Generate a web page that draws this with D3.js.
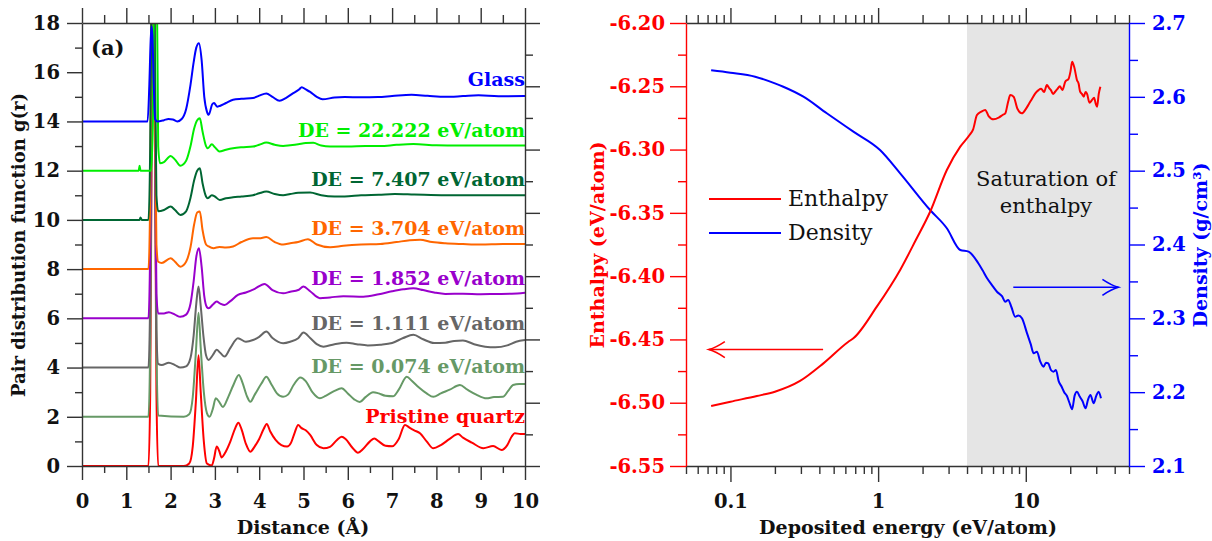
<!DOCTYPE html>
<html><head><meta charset="utf-8">
<script src="https://cdn.jsdelivr.net/npm/d3@7"></script>
<style>
body{margin:0;background:#fff}
svg{display:block}
text{font-family:"DejaVu Serif",serif}
</style>
</head><body>
<svg id="c" width="1212" height="541"></svg>
<script>
// ---------------- DATA (panel a: pair distribution functions, offset as plotted) ----------------
const pdfLabels = ["Pristine quartz","DE = 0.074 eV/atom","DE = 1.111 eV/atom","DE = 1.852 eV/atom",
                   "DE = 3.704 eV/atom","DE = 7.407 eV/atom","DE = 22.222 eV/atom","Glass"];
const pdfColors = ["#ff0000","#669966","#666666","#9900cc","#ff6600","#006633","#00ee00","#0000ff"];
const pdfLabelY = [1.75, 3.78, 5.53, 7.36, 9.39, 11.38, 13.37, 15.45]; // label baseline (g units)

const quartzPDF = [[0,0],[1.5,0],[1.54,3],[1.58,16],[1.61,25],[1.64,16],[1.68,3],[1.72,0],[2.3,0],[2.42,0.1],[2.5,0.8],[2.57,2.6],[2.63,4.5],[2.68,3.0],[2.75,1.0],[2.82,0.1],[2.93,0.02],[2.98,0.3],[3.04,0.79],[3.1,0.6],[3.15,0.35],[3.25,0.6],[3.35,1.0],[3.45,1.5],[3.53,1.76],[3.6,1.5],[3.7,0.9],[3.8,0.58],[3.9,0.8],[4.0,1.1],[4.1,1.5],[4.17,1.71],[4.25,1.4],[4.37,1.06],[4.5,0.85],[4.63,0.79],[4.72,0.95],[4.8,1.35],[4.88,1.67],[4.95,1.55],[5.05,1.45],[5.15,1.26],[5.3,0.85],[5.45,0.72],[5.6,0.78],[5.75,1.05],[5.86,1.19],[5.95,1.1],[6.1,0.75],[6.23,0.54],[6.35,0.7],[6.5,1.0],[6.6,1.12],[6.7,1.0],[6.85,0.82],[7.0,0.8],[7.15,1.1],[7.29,1.67],[7.4,1.55],[7.5,1.45],[7.63,1.33],[7.78,1.0],[7.93,0.72],[8.1,0.85],[8.3,1.1],[8.49,1.3],[8.6,1.15],[8.8,0.95],[9.06,0.72],[9.28,0.81],[9.47,0.65],[9.6,0.85],[9.7,1.2],[9.77,1.33],[9.9,1.3],[10,1.3]];
const de0074PDF = [[0,2],[1.5,2],[1.54,5],[1.58,16],[1.61,24],[1.64,16],[1.68,5],[1.72,2.05],[2.3,2.0],[2.42,2.1],[2.5,2.8],[2.57,4.6],[2.63,6.23],[2.68,4.8],[2.75,3.0],[2.82,2.15],[2.88,2.0],[2.95,2.3],[3.02,2.75],[3.1,2.6],[3.18,2.4],[3.3,2.8],[3.42,3.3],[3.54,3.7],[3.62,3.4],[3.72,2.85],[3.8,2.61],[3.9,2.9],[4.05,3.35],[4.16,3.63],[4.28,3.3],[4.4,2.95],[4.54,2.81],[4.65,2.9],[4.78,3.3],[4.93,3.6],[5.05,3.45],[5.2,3.0],[5.37,2.75],[5.5,2.85],[5.7,3.05],[5.86,3.16],[6.0,2.95],[6.15,2.7],[6.27,2.6],[6.4,2.8],[6.57,3.0],[6.7,2.95],[6.85,2.85],[7.02,2.83],[7.15,3.1],[7.33,3.63],[7.45,3.45],[7.6,3.2],[7.78,2.95],[7.93,2.81],[8.1,2.95],[8.3,3.1],[8.53,3.29],[8.7,3.1],[8.9,2.9],[9.13,2.75],[9.3,2.8],[9.5,2.81],[9.62,3.05],[9.73,3.29],[9.87,3.33],[10,3.33]];
const de1111PDF = [[0,4],[1.5,4],[1.54,7],[1.58,18],[1.61,24],[1.64,16],[1.68,5.5],[1.72,4.15],[1.8,4.1],[1.96,4.2],[2.1,4.1],[2.22,4.0],[2.35,4.05],[2.45,4.4],[2.52,5.3],[2.58,6.6],[2.63,7.29],[2.68,6.5],[2.74,5.3],[2.8,4.5],[2.86,4.31],[2.95,4.5],[3.04,4.72],[3.12,4.6],[3.22,4.45],[3.35,4.8],[3.52,5.19],[3.7,5.05],[3.86,5.12],[4.0,5.25],[4.16,5.46],[4.3,5.2],[4.54,4.99],[4.7,5.05],[4.88,5.19],[5.0,5.42],[5.15,5.2],[5.3,4.95],[5.45,4.85],[5.7,4.95],[5.97,5.01],[6.2,4.95],[6.45,4.9],[6.73,4.93],[7.0,5.0],[7.25,5.2],[7.48,5.33],[7.7,5.15],[7.95,5.0],[8.2,5.01],[8.4,5.08],[8.6,5.1],[8.85,4.95],[9.1,4.85],[9.33,4.82],[9.6,4.9],[9.8,5.05],[10,5.12]];
const de1852PDF = [[0,6],[1.5,6],[1.54,9],[1.58,20],[1.61,24],[1.64,16],[1.68,7],[1.72,6.2],[1.85,6.2],[1.96,6.25],[2.1,6.15],[2.22,6.06],[2.35,6.15],[2.45,6.6],[2.52,7.5],[2.58,8.5],[2.64,8.85],[2.7,8.1],[2.76,6.9],[2.82,6.45],[2.86,6.41],[2.95,6.55],[3.04,6.68],[3.12,6.6],[3.22,6.54],[3.35,6.7],[3.52,6.95],[3.7,7.05],[3.9,7.2],[4.12,7.4],[4.3,7.15],[4.54,7.02],[4.7,7.08],[4.88,7.15],[5.0,7.29],[5.15,7.1],[5.37,6.82],[5.6,6.85],[5.9,6.9],[6.35,6.88],[6.7,6.98],[7.0,7.1],[7.25,7.18],[7.48,7.22],[7.7,7.15],[7.95,7.05],[8.2,6.99],[8.6,7.0],[9.0,6.98],[9.33,6.99],[9.7,7.0],[10,7.04]];
const de3704PDF = [[0,8],[1.5,8],[1.54,11],[1.58,21],[1.61,24],[1.64,16],[1.68,9],[1.72,8.3],[1.8,8.25],[2.0,8.44],[2.1,8.3],[2.22,8.1],[2.35,8.3],[2.45,8.9],[2.53,9.8],[2.6,10.3],[2.66,10.34],[2.72,9.6],[2.8,9.0],[2.86,8.92],[2.97,8.85],[3.1,8.9],[3.25,8.88],[3.41,8.92],[3.6,9.1],[3.86,9.25],[4.0,9.25],[4.16,9.3],[4.35,9.1],[4.54,9.0],[4.7,9.05],[4.88,9.1],[5.1,9.21],[5.3,9.0],[5.6,8.89],[5.9,8.95],[6.3,9.0],[6.73,9.02],[7.1,9.1],[7.4,9.17],[7.63,9.19],[7.9,9.1],[8.2,9.05],[8.6,9.02],[9.0,9.0],[9.5,9.02],[10,9.02]];
const de7407PDF = [[0,10],[1.3,10],[1.32,10.1],[1.35,10],[1.5,10],[1.54,13],[1.58,22],[1.61,26],[1.64,18],[1.68,11],[1.72,10.35],[1.85,10.4],[2.0,10.54],[2.1,10.4],[2.22,10.2],[2.35,10.35],[2.45,10.9],[2.53,11.6],[2.6,12.0],[2.66,12.1],[2.72,11.5],[2.8,10.95],[2.84,10.88],[2.93,11.0],[3.0,10.95],[3.11,10.81],[3.25,10.88],[3.41,10.92],[3.6,10.95],[3.86,11.0],[4.0,11.08],[4.16,11.15],[4.35,11.05],[4.54,11.0],[4.7,11.05],[4.88,11.1],[5.15,11.11],[5.4,11.0],[5.7,10.95],[5.93,10.95],[6.3,11.0],[6.7,11.02],[7.06,11.05],[7.5,11.03],[8.2,11.0],[9.0,11.0],[10,11.0]];
const de22222PDF = [[0,12],[1.28,12],[1.3,12.2],[1.32,12],[1.56,12],[1.6,14],[1.63,22],[1.66,30],[1.69,20],[1.72,13],[1.76,12.3],[1.85,12.35],[2.0,12.6],[2.1,12.45],[2.22,12.2],[2.35,12.4],[2.45,13.0],[2.53,13.7],[2.6,14.05],[2.66,14.13],[2.72,13.6],[2.8,13.0],[2.84,12.91],[2.93,13.07],[3.0,12.95],[3.1,12.78],[3.25,12.85],[3.41,12.91],[3.6,12.95],[3.86,12.98],[4.0,13.05],[4.16,13.14],[4.35,13.05],[4.54,13.0],[4.7,13.03],[4.88,13.07],[5.05,13.12],[5.22,13.13],[5.4,13.02],[5.6,12.98],[6.0,12.98],[6.4,13.0],[6.73,13.0],[7.1,13.05],[7.48,13.08],[8.0,13.03],[8.5,13.02],[8.99,13.02],[9.5,13.02],[10,13.02]];
const glassPDF = [[0,14],[1.48,14],[1.52,15.5],[1.55,17.3],[1.57,17.86],[1.59,17.5],[1.62,15.5],[1.65,14.1],[1.7,14.0],[1.85,14.05],[1.95,14.1],[2.05,14.08],[2.15,14.0],[2.25,14.1],[2.35,14.5],[2.45,15.5],[2.52,16.4],[2.58,17.0],[2.64,17.18],[2.7,16.5],[2.76,15.0],[2.82,14.4],[2.86,14.27],[2.94,14.7],[2.98,14.75],[3.05,14.6],[3.11,14.63],[3.25,14.75],[3.41,14.88],[3.6,14.92],[3.86,14.95],[4.0,15.05],[4.16,15.14],[4.3,15.0],[4.46,14.84],[4.6,14.95],[4.76,15.14],[4.9,15.3],[4.96,15.39],[5.05,15.3],[5.15,15.2],[5.3,15.0],[5.43,14.9],[5.7,14.97],[5.93,14.99],[6.3,14.98],[6.68,14.99],[7.0,15.03],[7.44,15.08],[7.8,15.04],[8.2,15.0],[8.6,15.03],[8.95,15.06],[9.4,15.02],[10,15.03]];
const pdfSeries = [quartzPDF, de0074PDF, de1111PDF, de1852PDF, de3704PDF, de7407PDF, de22222PDF, glassPDF];

const pdfXTicks = [0,1,2,3,4,5,6,7,8,9,10];
const pdfXTickLabels = ["0","1","2","3","4","5","6","7","8","9","10"];
const pdfYTicks = [0,2,4,6,8,10,12,14,16,18];
const pdfYTickLabels = ["0","2","4","6","8","10","12","14","16","18"];

// ---------------- DATA (panel b: enthalpy & density vs deposited energy) ----------------
const enthalpyX = [0.074,0.1,0.151,0.2,0.296,0.426,0.626,0.68,0.98,1.41,1.8,2.25,2.92,3.6,4.16,4.4,4.67,5.0,5.31,5.6,6.05,6.6,7.0,7.26,7.6,7.85,8.27,8.8,9.42,10.0,10.5,11.0,11.6,12.2,12.7,13.3,13.9,14.4,14.8,15.3,15.8,16.4,17.0,17.7,18.5,19.5,20.1,20.6,21.3,22.2,22.8,23.3,24.0,24.7,25.4,26.0,27.0,28.1,29.0,29.8,30.4,31.2,32.0];
const enthalpyY = [-6.5026,-6.4992,-6.4947,-6.4913,-6.4828,-6.4689,-6.4520,-6.4491,-6.4241,-6.3951,-6.3715,-6.3491,-6.3161,-6.2977,-6.2885,-6.2840,-6.2727,-6.2700,-6.2687,-6.2735,-6.2761,-6.2745,-6.2725,-6.2714,-6.2620,-6.2569,-6.2582,-6.2680,-6.2714,-6.2680,-6.2640,-6.2600,-6.2556,-6.2530,-6.2520,-6.2545,-6.2490,-6.2515,-6.2530,-6.2560,-6.2543,-6.2520,-6.2500,-6.2530,-6.2464,-6.2440,-6.2380,-6.2306,-6.2350,-6.2450,-6.2480,-6.2540,-6.2560,-6.2582,-6.2545,-6.2560,-6.2630,-6.2608,-6.2590,-6.2640,-6.2661,-6.2560,-6.2503];
const densityX = [0.074,0.1,0.147,0.2,0.228,0.312,0.449,0.68,1.03,1.41,2.25,2.92,3.6,4.1,4.77,5.1,5.47,5.9,6.38,6.9,7.26,7.6,8.0,8.47,8.9,9.42,10.2,10.8,11.3,11.9,12.5,13.2,13.7,14.2,14.8,15.4,16.0,16.7,17.5,18.2,19.0,19.8,20.6,21.4,22.2,23.2,24.2,25.4,26.4,27.4,28.8,30.0,31.1,32.3];
const densityY = [2.636,2.6327,2.6273,2.6183,2.6137,2.6002,2.5777,2.5528,2.528,2.4964,2.4467,2.422,2.3926,2.3903,2.3746,2.3650,2.3542,2.3450,2.336,2.3300,2.3225,2.325,2.3150,2.3022,2.3040,2.300,2.2797,2.2650,2.2526,2.2549,2.2420,2.2345,2.2400,2.2390,2.2300,2.2277,2.2300,2.2150,2.2074,2.2000,2.1948,2.1850,2.1768,2.1950,2.2006,2.194,2.1880,2.1782,2.1900,2.1962,2.185,2.1950,2.2006,2.1917];

const energyMajorTicks = [0.1,1,10];
const energyTickLabels = ["0.1","1","10"];
const energyMinorTicks = [0.05,0.06,0.07,0.08,0.09,0.2,0.3,0.4,0.5,0.6,0.7,0.8,0.9,2,3,4,5,6,7,8,9,20,30,40,50];
const enthalpyTicks = [-6.55,-6.50,-6.45,-6.40,-6.35,-6.30,-6.25,-6.20];
const enthalpyTickLabels = ["-6.55","-6.50","-6.45","-6.40","-6.35","-6.30","-6.25","-6.20"];
const densityTicks = [2.1,2.2,2.3,2.4,2.5,2.6,2.7];
const densityTickLabels = ["2.1","2.2","2.3","2.4","2.5","2.6","2.7"];
const saturationStart = 4.0;
const enthalpyArrow = [[0.424,-6.458],[0.0714,-6.458]];
const densityArrow = [[8.23,2.342],[42.4,2.342]];

// ---------------- DRAWING ----------------
const svg = d3.select("#c");
svg.append("rect").attr("width",1212).attr("height",541).attr("fill","#fff");
const AX = "#333";
const FONT = "DejaVu Serif";
const TICKFS = 19.5, TITLEFS = 19;

function styleAxis(g, color){
  g.attr("font-family", FONT).attr("font-size", TICKFS).attr("font-weight", "bold");
  g.selectAll("path,line").attr("stroke", color).attr("stroke-width", 1.4);
  g.selectAll("text").attr("fill", color);
  return g;
}

// ===== Panel (a) =====
const xL = d3.scaleLinear().domain([0,10]).range([82,525]);
const yL = d3.scaleLinear().domain([0,18]).range([466,23]);
const yL2 = d3.scaleLinear().domain([0,14]).range([466,23]);

svg.append("clipPath").attr("id","clipL").append("rect")
  .attr("x",82).attr("y",23).attr("width",443).attr("height",443);

const lineL = d3.line().x(d=>xL(d[0])).y(d=>yL(d[1])).curve(d3.curveMonotoneX);
const gCurves = svg.append("g").attr("clip-path","url(#clipL)");
pdfSeries.forEach((s,i)=>{
  gCurves.append("path").attr("d", lineL(s)).attr("fill","none")
    .attr("stroke", pdfColors[i]).attr("stroke-width",2).attr("stroke-linejoin","round");
});

// axes panel a
const halfTicks = d3.range(0.5,10,1);
let g;
g = svg.append("g").attr("transform","translate(0,466)")
  .call(d3.axisBottom(xL).tickValues(pdfXTicks).tickSize(14).tickSizeOuter(0).tickFormat((d,i)=>pdfXTickLabels[i]));
styleAxis(g, AX); g.selectAll("text").attr("y",42).attr("dy",null).attr("fill","#111");
g = svg.append("g").attr("transform","translate(0,466)")
  .call(d3.axisBottom(xL).tickValues(halfTicks).tickSize(7).tickSizeOuter(0).tickFormat(()=>""));
styleAxis(g, AX); g.select(".domain").remove();
g = svg.append("g").attr("transform","translate(0,23)")
  .call(d3.axisTop(xL).tickValues(pdfXTicks).tickSize(15).tickSizeOuter(0).tickFormat(()=>""));
styleAxis(g, AX);
g = svg.append("g").attr("transform","translate(0,23)")
  .call(d3.axisTop(xL).tickValues(halfTicks).tickSize(8).tickSizeOuter(0).tickFormat(()=>""));
styleAxis(g, AX); g.select(".domain").remove();
g = svg.append("g").attr("transform","translate(82,0)")
  .call(d3.axisLeft(yL).tickValues(pdfYTicks).tickSize(15).tickPadding(7).tickSizeOuter(0).tickFormat((d,i)=>pdfYTickLabels[i]));
styleAxis(g, AX); g.selectAll("text").attr("fill","#111");
g = svg.append("g").attr("transform","translate(82,0)")
  .call(d3.axisLeft(yL).tickValues(d3.range(1,18,2)).tickSize(7).tickSizeOuter(0).tickFormat(()=>""));
styleAxis(g, AX); g.select(".domain").remove();
g = svg.append("g").attr("transform","translate(525,0)")
  .call(d3.axisRight(yL2).tickValues(d3.range(0,15,2)).tickSize(15).tickSizeOuter(0).tickFormat(()=>""));
styleAxis(g, AX);
g = svg.append("g").attr("transform","translate(525,0)")
  .call(d3.axisRight(yL2).tickValues(d3.range(1,14,2)).tickSize(8).tickSizeOuter(0).tickFormat(()=>""));
styleAxis(g, AX); g.select(".domain").remove();

// curve labels
pdfLabels.forEach((t,i)=>{
  svg.append("text").attr("x",525).attr("y",yL(pdfLabelY[i])).attr("text-anchor","end")
    .attr("font-family",FONT).attr("font-weight","bold").attr("font-size",19)
    .attr("fill",pdfColors[i]).text(t);
});
svg.append("text").attr("x",91).attr("y",55).attr("font-family",FONT).attr("font-weight","bold")
  .attr("font-size",21).attr("fill","#111").text("(a)");
svg.append("text").attr("transform","translate(25,245) rotate(-90)").attr("text-anchor","middle")
  .attr("font-family",FONT).attr("font-weight","bold").attr("font-size",18).attr("fill","#111")
  .text("Pair distribution function g(r)");
svg.append("text").attr("x",303).attr("y",534).attr("text-anchor","middle")
  .attr("font-family",FONT).attr("font-weight","bold").attr("font-size",TITLEFS).attr("fill","#111")
  .text("Distance (Å)");

// ===== Panel (b) =====
const xE = d3.scaleLog().domain([0.05,50]).range([686,1129]);
const yH = d3.scaleLinear().domain([-6.55,-6.20]).range([466,23]);
const yD = d3.scaleLinear().domain([2.1,2.7]).range([466,23]);

svg.append("rect").attr("x",xE(saturationStart)).attr("y",23)
  .attr("width",xE(50)-xE(saturationStart)).attr("height",443).attr("fill","#e5e5e5");

const lineH = d3.line().x((d,i)=>xE(enthalpyX[i])).y(d=>yH(d)).curve(d3.curveMonotoneX);
const lineD = d3.line().x((d,i)=>xE(densityX[i])).y(d=>yD(d)).curve(d3.curveMonotoneX);
svg.append("path").attr("d", lineD(densityY)).attr("fill","none").attr("stroke","#0000ff").attr("stroke-width",2);
svg.append("path").attr("d", lineH(enthalpyY)).attr("fill","none").attr("stroke","#ff0000").attr("stroke-width",2);

// axes panel b
g = svg.append("g").attr("transform","translate(0,466)")
  .call(d3.axisBottom(xE).tickValues(energyMajorTicks).tickSize(16).tickSizeOuter(0).tickFormat((d,i)=>energyTickLabels[i]));
styleAxis(g, AX); g.selectAll("text").attr("y",42).attr("dy",null).attr("fill","#111");
g = svg.append("g").attr("transform","translate(0,466)")
  .call(d3.axisBottom(xE).tickValues(energyMinorTicks).tickSize(8).tickSizeOuter(0).tickFormat(()=>""));
styleAxis(g, AX); g.select(".domain").remove();
g = svg.append("g").attr("transform","translate(0,23)")
  .call(d3.axisTop(xE).tickValues(energyMajorTicks).tickSize(15).tickSizeOuter(0).tickFormat(()=>""));
styleAxis(g, AX);
g = svg.append("g").attr("transform","translate(0,23)")
  .call(d3.axisTop(xE).tickValues(energyMinorTicks).tickSize(8).tickSizeOuter(0).tickFormat(()=>""));
styleAxis(g, AX); g.select(".domain").remove();

g = svg.append("g").attr("transform","translate(686,0)")
  .call(d3.axisLeft(yH).tickValues(enthalpyTicks).tickSize(16).tickPadding(5).tickSizeOuter(0).tickFormat((d,i)=>enthalpyTickLabels[i]));
styleAxis(g, "#ff0000");
g = svg.append("g").attr("transform","translate(686,0)")
  .call(d3.axisLeft(yH).tickValues(d3.range(-6.525,-6.2,0.05)).tickSize(8).tickSizeOuter(0).tickFormat(()=>""));
styleAxis(g, "#ff0000"); g.select(".domain").remove();

g = svg.append("g").attr("transform","translate(1129,0)")
  .call(d3.axisRight(yD).tickValues(densityTicks).tickSize(16).tickPadding(7).tickSizeOuter(0).tickFormat((d,i)=>densityTickLabels[i]));
styleAxis(g, "#0000ff");
g = svg.append("g").attr("transform","translate(1129,0)")
  .call(d3.axisRight(yD).tickValues(d3.range(2.15,2.7,0.1)).tickSize(9).tickSizeOuter(0).tickFormat(()=>""));
styleAxis(g, "#0000ff"); g.select(".domain").remove();

// arrows
function arrow(pts, yScale, color){
  const x0 = xE(pts[0][0]), x1 = xE(pts[1][0]), y = yScale(pts[0][1]);
  const dir = Math.sign(x1 - x0);
  svg.append("path").attr("d",`M${x0},${y}H${x1}`).attr("stroke",color).attr("stroke-width",1.6).attr("fill","none");
  const bx = x1 - dir*16;
  svg.append("path").attr("d",`M${bx},${y-8}Q${x1-dir*7},${y-2} ${x1},${y}Q${x1-dir*7},${y+2} ${bx},${y+8}`)
    .attr("stroke",color).attr("stroke-width",1.6).attr("fill","none");
}
arrow(enthalpyArrow, yH, "#ff0000");
arrow(densityArrow, yD, "#0000ff");

// legend
const legend = [["Enthalpy","#ff0000",199],["Density","#0000ff",233]];
legend.forEach(l=>{
  svg.append("line").attr("x1",709).attr("x2",781).attr("y1",l[2]).attr("y2",l[2]).attr("stroke",l[1]).attr("stroke-width",2);
  svg.append("text").attr("x",788).attr("y",l[2]+7).attr("font-family",FONT).attr("font-size",22)
    .attr("fill","#111").text(l[0]);
});
svg.append("text").attr("x",1046).attr("y",186).attr("text-anchor","middle").attr("font-family",FONT)
  .attr("font-size",21).attr("fill","#111").text("Saturation of");
svg.append("text").attr("x",1046).attr("y",213).attr("text-anchor","middle").attr("font-family",FONT)
  .attr("font-size",21).attr("fill","#111").text("enthalpy");

svg.append("text").attr("transform","translate(604,245) rotate(-90)").attr("text-anchor","middle")
  .attr("font-family",FONT).attr("font-weight","bold").attr("font-size",TITLEFS).attr("fill","#ff0000")
  .text("Enthalpy (eV/atom)");
svg.append("text").attr("transform","translate(1207,245) rotate(-90)").attr("text-anchor","middle")
  .attr("font-family",FONT).attr("font-weight","bold").attr("font-size",TITLEFS).attr("fill","#0000ff")
  .text("Density (g/cm³)");
svg.append("text").attr("x",908).attr("y",534).attr("text-anchor","middle")
  .attr("font-family",FONT).attr("font-weight","bold").attr("font-size",TITLEFS).attr("fill","#111")
  .text("Deposited energy (eV/atom)");
</script>
</body></html>
